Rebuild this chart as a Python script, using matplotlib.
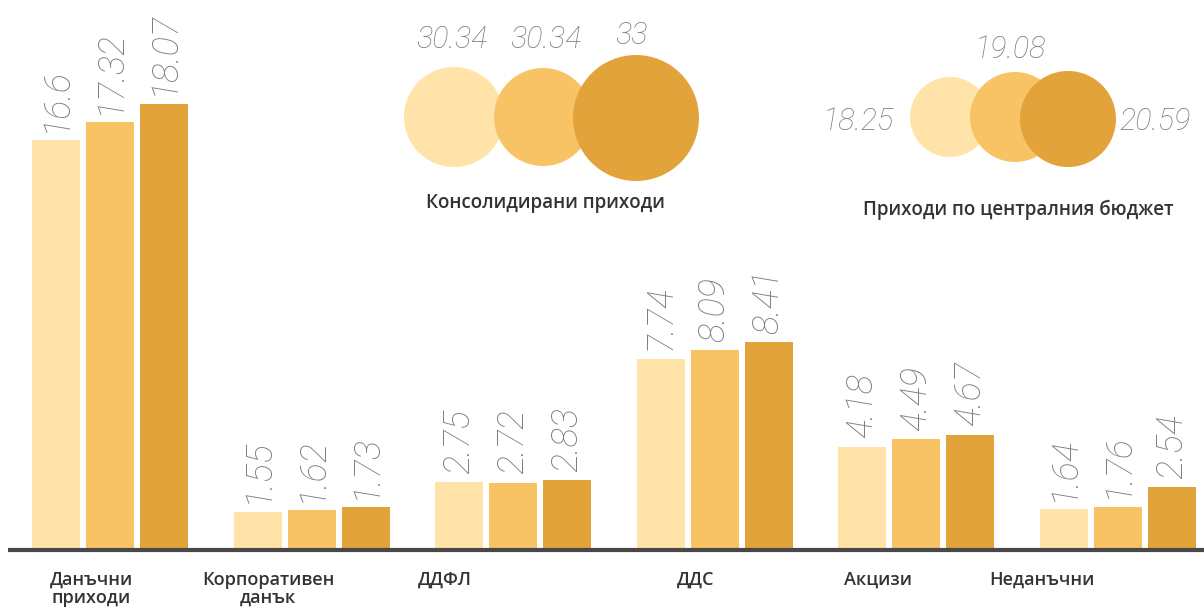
import matplotlib.pyplot as plt
from matplotlib.patches import Circle

# data
categories = ['Данъчни\nприходи', 'Корпоративен\nданък', 'ДДФЛ', 'ДДС', 'Акцизи', 'Неданъчни']
year1 = [16.6, 1.55, 2.75, 7.74, 4.18, 1.64]
year2 = [17.32, 1.62, 2.72, 8.09, 4.49, 1.76]
year3 = [18.07, 1.73, 2.83, 8.41, 4.67, 2.54]

consolidated = [30.34, 30.34, 33]
central = [18.25, 19.08, 20.59]
consolidated_title = 'Консолидирани приходи'
central_title = 'Приходи по централния бюджет'

colors = ['#FFE3A8', '#F8C365', '#E2A43A']
value_color = '#7d7d80'
text_color = '#333333'
value_font = dict(family=['Roboto', 'DejaVu Sans'], fontweight='light', style='italic',
                  color=value_color)
label_font = dict(family=['Open Sans', 'DejaVu Sans'], fontweight='semibold',
                  color=text_color)

W, H = 1204, 614
fig = plt.figure(figsize=(W / 100, H / 100), dpi=100)
fig.patch.set_facecolor('white')

# bar axes: group spacing 1 unit = 201.6 px, 24.7 px per value unit
ax = fig.add_axes([0, 0, 1, 1])
ax.set_xlim(-110 / 201.6, (W - 110) / 201.6)
ax.set_ylim(-64 / 24.7, 550 / 24.7)
ax.axis('off')

pitch = 54 / 201.6
width = 48 / 201.6
for k, series in enumerate([year1, year2, year3]):
    xs = [i + (k - 1) * pitch for i in range(len(categories))]
    ax.bar(xs, series, width=width, color=colors[k], zorder=2)
    for x, v in zip(xs, series):
        ax.annotate(f'{v:g}', (x, v), xytext=(0, 6), textcoords='offset points',
                    rotation=90, ha='center', va='bottom', fontsize=26, **value_font)

# baseline
ax.plot([(8 - 110) / 201.6, (W - 110) / 201.6], [0, 0], color='#4a4846', lw=3,
        solid_capstyle='butt', zorder=3)

# overlay axes in pixel coordinates for circles and labels
ov = fig.add_axes([0, 0, 1, 1])
ov.set_xlim(0, W)
ov.set_ylim(H, 0)
ov.axis('off')
ov.patch.set_alpha(0)

label_x = [91, 268, 445, 696, 878, 1042]
for x, name in zip(label_x, categories):
    ov.text(x, 571, name, ha='center', va='top', fontsize=13, linespacing=1.0,
            **label_font)

# consolidated revenue circles
cons_centers = [(454, 117), (543, 117), (636, 118)]
cons_radii = [50, 49, 63]
for (cx, cy), r, c in zip(cons_centers, cons_radii, colors):
    ov.add_patch(Circle((cx, cy), r, color=c, lw=0))
cons_text = [(452, 40), (546, 40), (632, 36)]
for (tx, ty), v in zip(cons_text, consolidated):
    ov.text(tx, ty, f'{v:g}', ha='center', va='center', fontsize=22, **value_font)
ov.text(545, 203, consolidated_title, ha='center', va='center', fontsize=13.5,
        **label_font)

# central budget circles
cen_centers = [(950, 117), (1015, 117), (1068, 119)]
cen_radii = [40, 45, 48]
for (cx, cy), r, c in zip(cen_centers, cen_radii, colors):
    ov.add_patch(Circle((cx, cy), r, color=c, lw=0))
cen_text = [(858, 122), (1010, 50), (1155, 121)]
for (tx, ty), v in zip(cen_text, central):
    ov.text(tx, ty, f'{v:g}', ha='center', va='center', fontsize=22, **value_font)
ov.text(1018, 210, central_title, ha='center', va='center', fontsize=13.5,
        **label_font)

fig.savefig('out.png', dpi=100)
plt.close(fig)
